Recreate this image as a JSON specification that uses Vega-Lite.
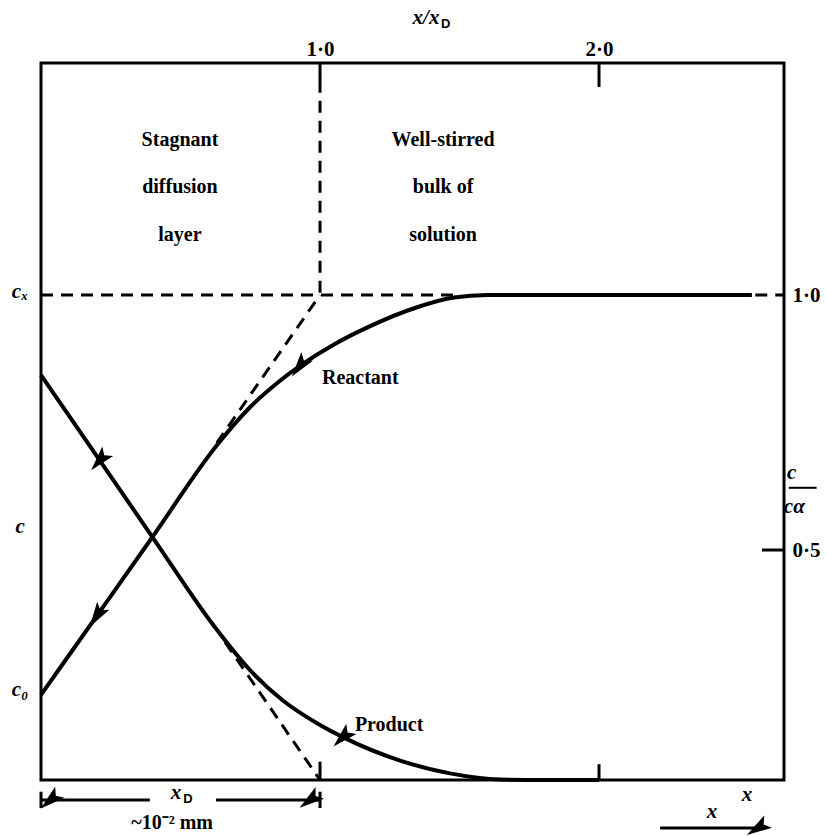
{
  "$schema": "https://vega.github.io/schema/vega-lite/v6.json",
  "width": 743,
  "height": 717,
  "autosize": {"type": "none"},
  "padding": {"left": 41, "top": 63, "right": 42, "bottom": 56},
  "background": "white",
  "config": {"view": {"stroke": "black", "strokeWidth": 3}, "font": "Liberation Serif"},
  "datasets": {
    "curves": [
      {"s": "Reactant", "x": 0.0, "y": 0.216},
      {"s": "Reactant", "x": 0.2, "y": 0.371},
      {"s": "Reactant", "x": 0.4, "y": 0.526},
      {"s": "Reactant", "x": 0.631, "y": 0.706},
      {"s": "Reactant", "x": 0.749, "y": 0.78},
      {"s": "Reactant", "x": 0.85, "y": 0.829},
      {"s": "Reactant", "x": 0.928, "y": 0.861},
      {"s": "Reactant", "x": 1.05, "y": 0.903},
      {"s": "Reactant", "x": 1.168, "y": 0.936},
      {"s": "Reactant", "x": 1.348, "y": 0.976},
      {"s": "Reactant", "x": 1.48, "y": 0.995},
      {"s": "Reactant", "x": 1.6, "y": 1.0},
      {"s": "Reactant", "x": 2.548, "y": 1.0},
      {"s": "Product", "x": 0.0, "y": 0.843},
      {"s": "Product", "x": 0.2, "y": 0.684},
      {"s": "Product", "x": 0.4, "y": 0.525},
      {"s": "Product", "x": 0.62, "y": 0.351},
      {"s": "Product", "x": 0.75, "y": 0.264},
      {"s": "Product", "x": 0.867, "y": 0.205},
      {"s": "Product", "x": 1.0, "y": 0.157},
      {"s": "Product", "x": 1.082, "y": 0.133},
      {"s": "Product", "x": 1.287, "y": 0.087},
      {"s": "Product", "x": 1.466, "y": 0.062},
      {"s": "Product", "x": 1.645, "y": 0.05},
      {"s": "Product", "x": 1.8, "y": 0.049},
      {"s": "Product", "x": 2.0, "y": 0.049}
    ],
    "dashes": [
      {"seg": "h1", "x": 0.0, "y": 1.0},
      {"seg": "h1", "x": 1.48, "y": 1.0},
      {"seg": "v1", "x": 1.0, "y": 1.42},
      {"seg": "v1", "x": 1.0, "y": 1.0},
      {"seg": "t1", "x": 0.63, "y": 0.71},
      {"seg": "t1", "x": 1.0, "y": 1.0},
      {"seg": "t2", "x": 0.66, "y": 0.319},
      {"seg": "t2", "x": 1.0, "y": 0.049},
      {"seg": "h2", "x": 2.56, "y": 1.0},
      {"seg": "h2", "x": 2.663, "y": 1.0}
    ],
    "rules": [
      {"x": 1.0, "y": 1.455, "x2": 1.0, "y2": 1.42},
      {"x": 2.0, "y": 1.455, "x2": 2.0, "y2": 1.408},
      {"x": 1.0, "y": 0.049, "x2": 1.0, "y2": 0.085},
      {"x": 2.0, "y": 0.049, "x2": 2.0, "y2": 0.08},
      {"x": 2.584, "y": 0.5, "x2": 2.663, "y2": 0.5},
      {"x": 0.0, "y": 0.0098, "x2": 0.39, "y2": 0.0098},
      {"x": 0.627, "y": 0.0098, "x2": 1.0, "y2": 0.0098},
      {"x": 0.0, "y": 0.026, "x2": 0.0, "y2": -0.006},
      {"x": 1.0, "y": 0.026, "x2": 1.0, "y2": -0.006},
      {"x": 2.219, "y": -0.045, "x2": 2.58, "y2": -0.045}
    ],
    "heads": [
      {"k": "r1", "x": 0.2, "y": 0.371},
      {"k": "r2", "x": 0.928, "y": 0.861},
      {"k": "p1", "x": 0.211, "y": 0.676},
      {"k": "p2", "x": 1.082, "y": 0.133},
      {"k": "bl", "x": 0.035, "y": 0.0098},
      {"k": "br", "x": 0.965, "y": 0.0098},
      {"k": "xr", "x": 2.57, "y": -0.045}
    ],
    "regions": [
      {"t": "Stagnant", "x": 0.498, "y": 1.304},
      {"t": "diffusion", "x": 0.498, "y": 1.212},
      {"t": "layer", "x": 0.498, "y": 1.118},
      {"t": "Well-stirred", "x": 1.441, "y": 1.304},
      {"t": "bulk of", "x": 1.441, "y": 1.212},
      {"t": "solution", "x": 1.441, "y": 1.118},
      {"t": "~10⁻² mm", "x": 0.47, "y": -0.035}
    ],
    "names": [
      {"t": "Reactant", "x": 1.007, "y": 0.837},
      {"t": "Product", "x": 1.125, "y": 0.157}
    ],
    "math": [
      {"t": "cₓ", "x": -0.075, "y": 1.006},
      {"t": "c", "x": -0.075, "y": 0.545},
      {"t": "c₀", "x": -0.075, "y": 0.225},
      {"t": "c", "x": 2.69, "y": 0.651},
      {"t": "cα", "x": 2.70, "y": 0.585},
      {"t": "x/x", "x": 1.38, "y": 1.543},
      {"t": "x", "x": 0.484, "y": 0.0235},
      {"t": "x", "x": 2.53, "y": 0.0196},
      {"t": "x", "x": 2.405, "y": -0.0137}
    ],
    "subs": [
      {"t": "D", "x": 1.45, "y": 1.531},
      {"t": "D", "x": 0.527, "y": 0.0118}
    ],
    "frac": [
      {"x": 2.68, "y": 0.622, "x2": 2.78, "y2": 0.622}
    ]
  },
  "encoding": {
    "x": {"field": "x", "type": "quantitative",
      "scale": {"domain": [0, 2.663], "nice": false, "zero": false},
      "axis": {"orient": "top", "values": [1, 2], "labelExpr": "datum.value == 1 ? '1·0' : '2·0'",
        "domain": false, "ticks": false, "grid": false, "title": null,
        "labelFont": "Liberation Serif", "labelFontWeight": "bold", "labelFontSize": 21, "labelColor": "black", "labelPadding": 4}},
    "y": {"field": "y", "type": "quantitative",
      "scale": {"domain": [0.049, 1.455], "nice": false, "zero": false},
      "axis": {"orient": "right", "values": [0.5, 1], "labelExpr": "datum.value == 1 ? '1·0' : '0·5'",
        "domain": false, "ticks": false, "grid": false, "title": null,
        "labelFont": "Liberation Serif", "labelFontWeight": "bold", "labelFontSize": 21, "labelColor": "black", "labelPadding": 8}}
  },
  "layer": [
    {"data": {"name": "curves"}, "mark": {"type": "line", "interpolate": "monotone", "color": "black", "strokeWidth": 4},
      "encoding": {"detail": {"field": "s"}}},
    {"data": {"name": "dashes"}, "mark": {"type": "line", "color": "black", "strokeWidth": 3, "strokeDash": [12, 8]},
      "encoding": {"detail": {"field": "seg"}}},
    {"data": {"name": "rules"}, "mark": {"type": "rule", "color": "black", "strokeWidth": 3},
      "encoding": {"x2": {"field": "x2"}, "y2": {"field": "y2"}}},
    {"data": {"name": "frac"}, "mark": {"type": "rule", "color": "black", "strokeWidth": 2},
      "encoding": {"x2": {"field": "x2"}, "y2": {"field": "y2"}}},
    {"data": {"name": "heads"}, "mark": {"type": "point", "shape": "M0,-1L0.55,0.9L0,0.5L-0.55,0.9Z", "filled": true, "color": "black", "size": 700, "opacity": 1, "strokeWidth": 0},
      "encoding": {"angle": {"field": "k", "type": "nominal", "legend": null,
        "scale": {"domain": ["r1", "r2", "p1", "p2", "bl", "br", "xr"], "range": [213, 238, 145, 118, 270, 90, 90]}}}},
    {"data": {"name": "regions"}, "mark": {"type": "text", "font": "Liberation Serif", "fontWeight": "bold", "fontSize": 20, "color": "black"},
      "encoding": {"text": {"field": "t"}}},
    {"data": {"name": "names"}, "mark": {"type": "text", "font": "Liberation Serif", "fontWeight": "bold", "fontSize": 20, "color": "black", "align": "left"},
      "encoding": {"text": {"field": "t"}}},
    {"data": {"name": "math"}, "mark": {"type": "text", "font": "Liberation Serif", "fontWeight": "bold", "fontStyle": "italic", "fontSize": 21, "color": "black"},
      "encoding": {"text": {"field": "t"}}},
    {"data": {"name": "subs"}, "mark": {"type": "text", "font": "Liberation Sans", "fontWeight": "bold", "fontSize": 13, "color": "black"},
      "encoding": {"text": {"field": "t"}}}
  ]
}
